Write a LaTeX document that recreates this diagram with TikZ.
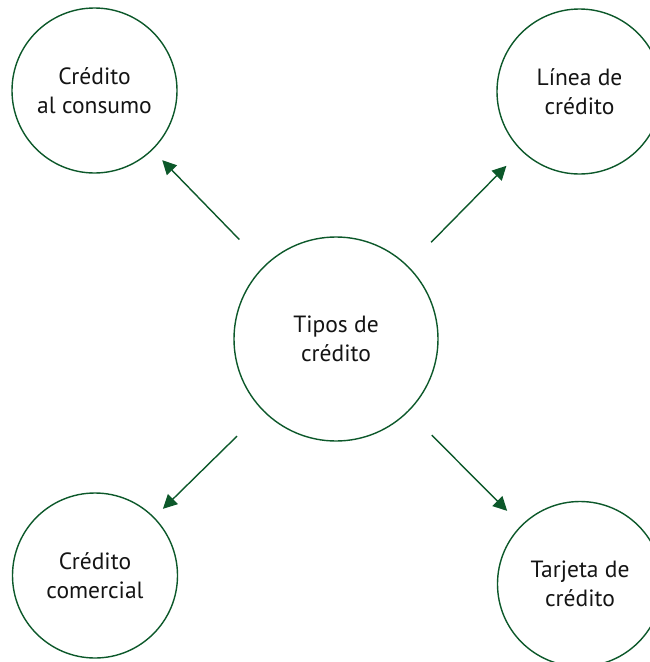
\documentclass[tikz,border=0pt]{standalone}
\usepackage{fontspec}
\setmainfont{PT Sans}
\usetikzlibrary{arrows.meta}
\definecolor{dkgreen}{RGB}{12,88,42}
\definecolor{txt}{RGB}{20,20,20}
\begin{document}
\begin{tikzpicture}[x=1pt,y=-1pt,
  bubble/.style={circle,draw=dkgreen,line width=1.4pt,inner sep=0pt,minimum size=165pt,
    align=center,font=\fontsize{23.5}{29}\selectfont,text=txt},
  bigbubble/.style={bubble,minimum size=204pt},
  link/.style={draw=dkgreen,line width=1.4pt,-{Triangle[length=14pt,width=14pt]}}]
\useasboundingbox (0,0) rectangle (650,662);
\node[bigbubble] (c) at (336,339) {Tipos de\\crédito};
\node[bubble] (tl) at (94.5,90.5) {Crédito\\al consumo};
\node[bubble] (tr) at (579.5,91.5) {Línea de\\crédito};
\node[bubble] (bl) at (95,575.5) {Crédito\\comercial};
\node[bubble] (br) at (580,584) {Tarjeta de\\crédito};
\draw[link,shorten <=36pt,shorten >=14pt] (c) -- (tl);
\draw[link,shorten <=33pt,shorten >=21pt] (c) -- (tr);
\draw[link,shorten <=36pt,shorten >=12pt] (c) -- (bl);
\draw[link,shorten <=33pt,shorten >=20pt] (c) -- (br);
\end{tikzpicture}
\end{document}
